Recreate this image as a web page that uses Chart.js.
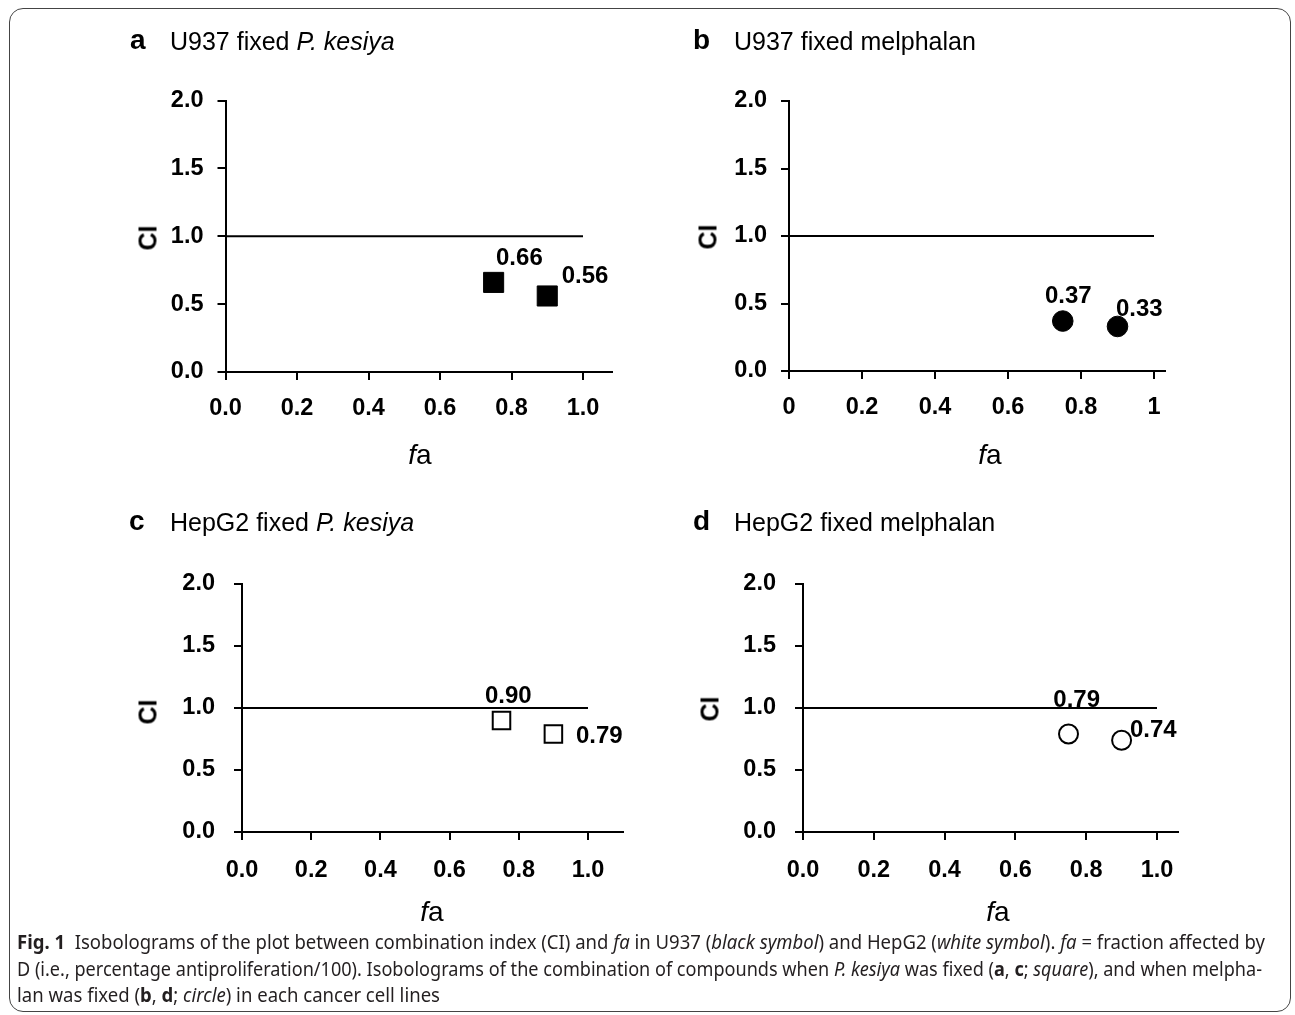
<!DOCTYPE html>
<html>
<head>
<meta charset="utf-8">
<script src="https://cdn.jsdelivr.net/npm/chart.js@4.4.1/dist/chart.umd.min.js"></script>
<style>
html,body{margin:0;padding:0;background:#fff;}
body{width:1295px;height:1015px;position:relative;overflow:hidden;font-family:'Liberation Sans',Arial,sans-serif;color:#000;}
canvas{position:absolute;left:0;top:0;}
.frame{position:absolute;left:9px;top:8px;width:1282px;height:1004px;border:1px solid #444;border-radius:14px;box-sizing:border-box;}
.t{position:absolute;white-space:nowrap;line-height:0;}
.rot{position:absolute;white-space:nowrap;line-height:1;font-weight:bold;font-size:25px;transform:translate(-50%,-50%) rotate(-90deg);}
.fa{position:absolute;white-space:nowrap;line-height:1;font-size:28px;transform:translate(-50%,-50%);}
.cap{position:absolute;white-space:nowrap;line-height:0;font-family:'Noto Sans','Open Sans',sans-serif;font-size:19.5px;color:#231f20;transform-origin:0 0;}
</style>
</head>
<body>
<div class="frame"></div>
<script>
// ---------------- data ----------------
const fractionAffected = [0.75, 0.90];
const ciU937FixedKesiya = [0.66, 0.56];
const ciU937FixedMelphalan = [0.37, 0.33];
const ciHepG2FixedKesiya = [0.90, 0.79];
const ciHepG2FixedMelphalan = [0.79, 0.74];
const refLineX = [0, 1];
const refLineY = [1, 1];
const xTickValues = [0, 0.2, 0.4, 0.6, 0.8, 1.0];
const xTickLabels = ['0.0', '0.2', '0.4', '0.6', '0.8', '1.0'];
const xTickLabelsPlain = ['0', '0.2', '0.4', '0.6', '0.8', '1'];
const yTickValues = [0, 0.5, 1.0, 1.5, 2.0];
const yTickLabels = ['0.0', '0.5', '1.0', '1.5', '2.0'];
const panelLetters = ['a', 'b', 'c', 'd'];
const panelTitles = ['U937 fixed <i>P. kesiya</i>', 'U937 fixed melphalan', 'HepG2 fixed <i>P. kesiya</i>', 'HepG2 fixed melphalan'];
const yTitle = 'CI';
const xTitleHtml = '<i>f</i>a';

// ---------------- layout / style ----------------
const W = 1295, H = 1015, YW = 60, XH = 60;
const TICK_FONT = {family: "'Liberation Sans', Arial, sans-serif", size: 23.5, weight: 'bold'};
const panels = [
  {ci: ciU937FixedKesiya, xLabels: xTickLabels, style: 'rect', filled: true, radius: 14.2, bw: 1,
   x0: 225.5, x1: 583, xmax: 1.08, yTop: 100.5, yBot: 372, yPad: 14, xPad: 14,
   offsets: [[2.4, -17.4], [14.4, -13]],
   title: {lx: 130, tx: 170, base: 50}, ciPos: [148, 238], faPos: [420, 455]},
  {ci: ciU937FixedMelphalan, xLabels: xTickLabelsPlain, style: 'circle', filled: true, radius: 10.3, bw: 1,
   x0: 789, x1: 1154, xmax: 1.03, yTop: 101, yBot: 371, yPad: 14, xPad: 14,
   offsets: [[-17.75, -18], [-1.5, -10.5]],
   title: {lx: 693, tx: 734, base: 50}, ciPos: [708, 237], faPos: [990, 455]},
  {ci: ciHepG2FixedKesiya, xLabels: xTickLabels, style: 'rect', filled: false, radius: 12.4, bw: 2,
   x0: 242, x1: 588, xmax: 1.1, yTop: 584, yBot: 832, yPad: 19, xPad: 16,
   offsets: [[-16.5, -17], [22.6, 9.3]],
   title: {lx: 129, tx: 170, base: 531}, ciPos: [148, 712], faPos: [432, 912]},
  {ci: ciHepG2FixedMelphalan, xLabels: xTickLabels, style: 'circle', filled: false, radius: 9.5, bw: 2,
   x0: 803, x1: 1157, xmax: 1.06, yTop: 584, yBot: 832, yPad: 19, xPad: 16,
   offsets: [[-15.2, -27.3], [8.4, -3.3]],
   title: {lx: 693, tx: 734, base: 531}, ciPos: [710, 709], faPos: [998, 912]}
];

function placeText(html, left, baseline, size, weight, cls) {
  const d = document.createElement('div');
  d.className = cls || 't';
  d.innerHTML = html;
  d.style.left = left + 'px';
  d.style.fontSize = size + 'px';
  if (weight) d.style.fontWeight = weight;
  const k = (cls === 'cap') ? 0.388 : 0.3465;
  d.style.top = (baseline - k * size) + 'px';
  document.body.appendChild(d);
  return d;
}

const valueLabels = {
  id: 'valueLabels',
  afterDatasetsDraw(chart, args, opts) {
    const ds = chart.data.datasets[1];
    const meta = chart.getDatasetMeta(1);
    const ctx = chart.ctx;
    ctx.save();
    ctx.font = "bold 24px 'Liberation Sans', Arial, sans-serif";
    ctx.fillStyle = '#000';
    ctx.textAlign = 'left';
    ctx.textBaseline = 'alphabetic';
    meta.data.forEach((pt, i) => {
      const o = opts.offsets[i];
      ctx.fillText(ds.data[i].y.toFixed(2), pt.x + o[0], pt.y + o[1]);
    });
    ctx.restore();
  }
};

panels.forEach((p, idx) => {
  const c = document.createElement('canvas');
  c.width = W; c.height = H;
  c.style.width = W + 'px'; c.style.height = H + 'px';
  document.body.appendChild(c);
  const xEnd = p.x0 + p.xmax * (p.x1 - p.x0);
  const axisCommon = {
    grid: {drawOnChartArea: false, drawTicks: true, tickLength: 8, color: '#000', lineWidth: 2},
    border: {display: true, color: '#000', width: 2}
  };
  new Chart(c, {
    type: 'scatter',
    data: {
      datasets: [
        {data: refLineX.map((x, i) => ({x: x, y: refLineY[i]})), showLine: true, borderColor: '#000',
         borderWidth: 2, pointRadius: 0, pointHoverRadius: 0, order: 2, clip: false},
        {data: fractionAffected.map((x, i) => ({x: x, y: p.ci[i]})), pointStyle: p.style,
         pointRadius: p.radius, pointHoverRadius: p.radius, backgroundColor: p.filled ? '#000' : '#fff',
         borderColor: '#000', borderWidth: p.bw, order: 1, clip: false}
      ]
    },
    options: {
      responsive: false, animation: false, devicePixelRatio: 1, events: [],
      layout: {padding: {left: p.x0 - YW, top: p.yTop, right: W - xEnd, bottom: H - p.yBot - XH}},
      plugins: {legend: {display: false}, tooltip: {enabled: false}, valueLabels: {offsets: p.offsets}},
      scales: {
        x: Object.assign({
          type: 'linear', min: 0, max: p.xmax,
          afterFit: s => { s.height = XH; },
          afterBuildTicks: s => { s.ticks = xTickValues.map(v => ({value: v})); },
          ticks: {autoSkip: false, maxRotation: 0, minRotation: 0, padding: p.xPad, color: '#000', font: TICK_FONT,
                  callback: (v, i) => p.xLabels[i]}
        }, axisCommon),
        y: Object.assign({
          type: 'linear', min: 0, max: 2,
          afterFit: s => { s.width = YW; },
          afterBuildTicks: s => { s.ticks = yTickValues.map(v => ({value: v})); },
          ticks: {autoSkip: false, padding: p.yPad, color: '#000', font: TICK_FONT,
                  callback: (v, i) => yTickLabels[i]}
        }, axisCommon)
      }
    },
    plugins: [valueLabels]
  });

  // panel titles
  placeText(panelLetters[idx], p.title.lx, p.title.base, 28, 'bold');
  placeText(panelTitles[idx], p.title.tx, p.title.base, 25);
  // axis titles
  const ci = document.createElement('div');
  ci.className = 'rot'; ci.textContent = yTitle;
  ci.style.left = p.ciPos[0] + 'px'; ci.style.top = p.ciPos[1] + 'px';
  document.body.appendChild(ci);
  const fa = document.createElement('div');
  fa.className = 'fa'; fa.innerHTML = xTitleHtml;
  fa.style.left = p.faPos[0] + 'px'; fa.style.top = p.faPos[1] + 'px';
  document.body.appendChild(fa);
});

// caption
const captionLines = [
  {html: '<b>Fig. 1</b>&nbsp; Isobolograms of the plot between combination index (CI) and <i>fa</i> in U937 (<i>black symbol</i>) and HepG2 (<i>white symbol</i>). <i>fa</i> = fraction affected by', right: 1265, base: 950},
  {html: 'D (i.e., percentage antiproliferation/100). Isobolograms of the combination of compounds when <i>P. kesiya</i> was fixed (<b>a</b>, <b>c</b>; <i>square</i>), and when melpha-', right: 1262, base: 977},
  {html: 'lan was fixed (<b>b</b>, <b>d</b>; <i>circle</i>) in each cancer cell lines', right: 440, base: 1003}
];
captionLines.forEach(l => {
  const d = placeText(l.html, 17, l.base, 19.5, null, 'cap');
  const w = d.getBoundingClientRect().width;
  d.style.transform = 'scaleX(' + ((l.right - 17) / w) + ')';
});
</script>
</body>
</html>
